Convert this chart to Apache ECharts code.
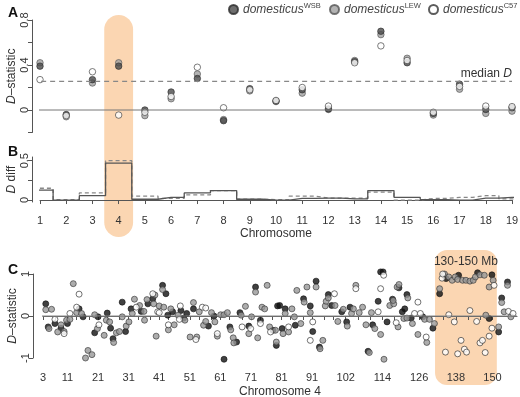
<!DOCTYPE html>
<html>
<head>
<meta charset="utf-8">
<title>D-statistic</title>
<script src="https://cdn.jsdelivr.net/npm/echarts@6/dist/echarts.min.js"></script>
<style>body{margin:0;background:#fff}#main{width:520px;height:397px}</style>
</head>
<body>
<div id="main"></div>
<script>
// panel A / B: per chromosome
var chroms = [1,2,3,4,5,6,7,8,9,10,11,12,13,14,15,16,17,18,19];
var dWSB = [0.39,-0.04,0.27,0.39,0.0,0.16,0.28,-0.095,0.19,0.08,0.18,0.01,0.43,0.70,0.42,-0.03,0.23,0.005,0.02];
var dLEW = [0.42,-0.06,0.24,0.42,-0.05,0.10,0.32,-0.085,0.17,0.075,0.15,0.005,0.44,0.67,0.46,-0.045,0.185,-0.03,-0.01];
var dC57 = [0.27,-0.05,0.34,-0.045,-0.02,0.12,0.38,0.02,0.18,0.085,0.20,0.035,0.42,0.57,0.44,-0.02,0.21,0.035,0.03];
var medianD = 0.255;
var diffSolid  = [0.127,0.0,0.055,0.47,0.01,0.035,0.09,0.12,0.01,0.0,0.02,0.025,0.015,0.12,0.035,0.005,0.0,0.025,0.035];
var diffDashed = [0.15,0.005,0.09,0.50,0.05,0.02,0.065,0.12,0.01,0.005,0.05,0.025,0.025,0.10,0.0,0.02,0.035,0.055,0.015];

// panel C: chromosome 4 windows [Mb, D]
var chr4WSB = [[3.9,0.29],[4.7,-0.26],[6.9,-0.18],[8.9,-0.29],[11.0,-0.18],[14.8,0.17],[16.1,-0.02],[21.0,-0.02],[19.9,-0.40],[24.0,0.07],[25.1,-0.29],[25.9,-0.54],[28.9,0.33],[30.0,-0.37],[31.8,0.17],[35.1,0.11],[37.3,0.29],[38.9,0.41],
  [42.1,0.73],[43.2,0.53],[43.8,0.02],[45.4,0.10],[48.1,0.13],[49.0,-0.05],[50.0,0.06],[52.2,0.17],[57.1,-0.24],[58.9,0.0],[62.2,-1.03],[64.1,-0.26],[66.3,-0.62],[67.4,0.08],[70.3,-0.24],[72.5,0.69],[74.1,-0.10],[78.2,-0.34],[79.7,0.24],
  [79.3,-0.70],[80.4,0.25],[81.2,-0.30],[82.2,0.17],[85.5,-0.22],[88.2,0.41],[90.4,0.24],[91.2,-0.37],[92.3,0.83],[93.4,-0.74],[96.3,0.51],[97.4,0.25],[100.7,0.10],[102.3,-0.14],[103.4,0.21],[109.3,-0.84],[110.8,-0.21],[112.6,0.35],[113.4,1.05],[114.2,1.05],[115.5,-0.14],[117.3,0.40],
  [119.4,0.67],[120.5,0.10],[121.3,0.17],[122.0,0.51],[123.4,-0.05],[127.2,-0.02],[130.5,-0.29],[132.7,0.53],[134.8,0.89],[138.9,0.97],[145.1,1.03],[148.9,-0.06],[149.8,0.98],[152.0,-0.38],[153.0,0.43],[154.9,0.81]];
var chr4LEW = [[3.9,0.15],[5.8,0.16],[4.95,-0.30],[7.8,-0.38],[8.9,-0.21],[9.9,-0.37],[10.7,-0.10],[11.8,-0.08],[12.9,0.77],[14.0,0.08],[15.6,0.06],[16.9,-1.0],[17.7,-0.82],[19.0,-0.92],[19.9,0.03],[20.8,-0.30],[23.0,-0.46],[23.7,-0.10],[24.8,-0.14],[26.1,-0.63],[27.0,-0.40],[28.0,-0.37],[28.9,-0.02],[30.2,-0.24],[31.1,-0.14],[32.2,0.06],[32.9,0.40],[34.6,0.25],[36.2,-0.10],[36.0,0.11],[37.0,0.39],[39.2,0.29],[40.0,-0.48],[39.6,0.50],
  [42.1,0.63],[41.0,0.24],[42.5,0.21],[44.0,-0.33],[44.8,0.17],[45.9,-0.21],[47.2,0.02],[49.4,-0.10],[51.1,-0.50],[52.2,0.32],[53.3,-0.50],[54.1,0.10],[55.5,-0.22],[56.2,-0.13],[58.1,0.08],[59.2,-0.14],[60.0,-0.48],[61.1,0.03],[62.2,0.03],[63.3,0.08],[64.4,-0.33],[65.2,-0.52],[65.4,-0.64],[67.8,0.02],[69.2,0.23],[71.2,-0.02],[70.3,-0.42],[72.5,0.57],[73.2,-0.52],[74.6,0.21],[75.5,0.17],[76.3,0.73],[77.1,-0.26],[79.3,-0.62],
  [79.0,-0.34],[81.5,-0.42],[82.2,0.06],[83.3,-0.38],[84.4,0.17],[85.2,-0.02],[86.0,0.61],[87.3,-0.18],[88.4,0.33],[89.3,0.69],[90.4,0.08],[92.3,0.69],[93.6,-0.78],[94.5,-0.58],[95.3,0.24],[95.6,0.35],[96.3,0.43],[98.5,0.25],[99.4,-0.13],[101.2,0.16],[102.5,-0.24],[103.9,0.06],[104.5,0.17],[105.3,0.73],[106.4,0.08],[107.5,0.21],[108.6,-0.21],[109.7,-0.87],[110.4,0.08],[111.5,-0.30],[113.4,-0.44],[114.5,-1.03],[116.4,0.25],[117.7,0.29],[118.8,0.69],
  [119.4,0.75],[117.5,0.37],[119.1,-0.26],[121.0,-0.06],[122.0,-0.05],[122.3,0.43],[123.8,-0.18],[125.6,-0.44],[127.8,-0.08],[128.5,-0.63],[129.4,-0.08],[131.0,-0.18],[132.7,0.65],[134.3,1.0],[135.7,0.93],[136.8,0.85],[137.8,0.93],[138.6,0.87],[140.2,0.85],[141.3,0.85],[142.6,0.83],[143.7,0.85],[144.4,0.93],[145.9,0.98],[147.3,0.97],[147.8,0.02],[148.9,0.69],[150.2,0.85],[152.0,-0.26],[153.0,0.32],[153.8,0.10],[154.9,0.73],[156.0,-0.02]];
var chr4C57 = [[6.9,-0.08],[9.9,-0.42],[11.8,0.06],[14.0,0.21],[14.8,0.52],[21.3,-0.21],[33.5,0.21],[38.9,0.53],[40.5,0.10],
  [41.0,0.08],[44.0,-0.21],[47.6,-0.08],[47.9,0.24],[53.0,-0.56],[55.1,0.21],[56.2,0.19],[60.0,-0.42],[68.1,-0.26],[70.9,-0.30],[74.1,-0.18],[77.4,-0.38],
  [83.3,-0.26],[91.2,-0.14],[90.4,-0.58],[98.3,0.53],[105.3,0.65],[112.6,0.10],[113.4,0.65],[114.4,0.97],
  [118.5,-0.16],[124.5,0.06],[125.6,0.33],[126.4,0.06],[128.3,-0.50],[133.5,0.90],[133.7,1.0],[135.7,0.03],[134.6,-0.86],[137.5,-0.14],[139.7,-0.58],[138.6,-0.90],[140.8,-0.79],[141.5,-0.86],[142.6,0.13],[144.8,-0.13],[145.9,-0.64],[146.7,-0.58],[147.6,-0.87],[148.9,-0.48],[149.8,-0.29],[150.5,0.73],[155.2,0.11],[156.7,0.06]];
var chr4Labels = [3,11,21,31,41,51,61,71,81,91,102,114,126,138,150];
var chr4Ticks = [3,7,11,14,18,21,24,28,31,34,38,41,44,48,51,54,58,61,64,68,71,74,78,81,84,88,91,95,98,102,106,110,114,118,122,126,130,134,138,142,146,150];
var highlightChr = [3.45, 4.55];
var highlightMb = [131.2, 151.4];

var FONT = '"Liberation Sans", Arial, sans-serif';
var TXT = '#333';
var peach = '#fbd6b2';

function pairs(xs, ys) {
    return xs.map(function (x, i) { return [x, ys[i]]; });
}
// step line extended a little beyond chromosome 1 and 19
function stepData(ys) {
    var d = [[0.73, ys[0]]].concat(pairs(chroms, ys));
    d.push([19.19, ys[ys.length - 1]]);
    return d;
}
// one legend box per strain so they stay on a single row
function strainLegend(name, left) {
    return {
        data: [name], left: left, top: 2, padding: 0,
        itemWidth: 9, itemHeight: 9, itemGap: 4, icon: 'circle',
        formatter: function (n) { return '{i|domesticus}{s|' + n + '}'; },
        textStyle: {
            rich: {
                i: {fontStyle: 'italic', fontSize: 12, color: '#444', fontFamily: FONT, lineHeight: 15},
                s: {fontSize: 7.5, color: '#444', fontFamily: FONT, verticalAlign: 'top', lineHeight: 15, padding: [0, 0, 6, 0]}
            }
        }
    };
}

var dotWSB = {color: '#4a4a4a', borderColor: '#2a2a2a', borderWidth: 0.8};
var dotLEW = {color: '#a0a0a0', borderColor: '#555', borderWidth: 0.8};
var dotC57 = {color: '#fff', borderColor: '#333', borderWidth: 0.8};

var yAxisBase = {
    type: 'value', offset: 8,
    axisLine: {show: true, lineStyle: {color: '#555'}},
    axisTick: {show: true, length: 4, lineStyle: {color: '#555'}},
    axisLabel: {rotate: 90, margin: 2, fontSize: 11, color: TXT, fontFamily: FONT},
    splitLine: {show: false},
    nameLocation: 'middle', nameGap: 14, nameMoveOverlap: false,
    nameTextStyle: {fontSize: 12, color: TXT, fontFamily: FONT,
        rich: {i: {fontStyle: 'italic', fontSize: 12, color: TXT, fontFamily: FONT}}}
};

var chart = echarts.init(document.getElementById('main'));
var option = {
    animation: false,
    textStyle: {fontFamily: FONT},
    title: [
        {text: 'A', left: 3, top: 1, textStyle: {fontSize: 14, fontWeight: 'bold', color: '#111'}},
        {text: 'B', left: 3, top: 140, textStyle: {fontSize: 14, fontWeight: 'bold', color: '#111'}},
        {text: 'C', left: 3, top: 258, textStyle: {fontSize: 14, fontWeight: 'bold', color: '#111'}}
    ],
    legend: [strainLegend('WSB', 228), strainLegend('LEW', 329), strainLegend('C57', 428)],
    grid: [
        {left: 40, right: 8, top: 20, height: 112.5, outerBoundsMode: 'none'},
        {left: 40, right: 8, top: 157, height: 45, outerBoundsMode: 'none'},
        {left: 43, right: 3, top: 274, height: 84, outerBoundsMode: 'none'}
    ],
    xAxis: [
        {gridIndex: 0, type: 'value', min: 1, max: 19, show: false},
        {gridIndex: 1, type: 'value', min: 1, max: 19, interval: 1, offset: 8,
            axisLine: {lineStyle: {color: '#555'}},
            axisTick: {length: 4, lineStyle: {color: '#555'}},
            axisLabel: {fontSize: 11, color: TXT, margin: 5},
            splitLine: {show: false},
            name: 'Chromosome', nameLocation: 'middle', nameGap: 18, nameMoveOverlap: false,
            nameTextStyle: {fontSize: 12, color: TXT}},
        {gridIndex: 2, type: 'value', min: 3, max: 158, offset: 6,
            axisLine: {lineStyle: {color: '#555'}},
            axisTick: {length: 4, customValues: chr4Ticks, lineStyle: {color: '#555'}},
            axisLabel: {fontSize: 11, color: TXT, margin: 8, customValues: chr4Labels},
            splitLine: {show: false},
            name: 'Chromosome 4', nameLocation: 'middle', nameGap: 22, nameMoveOverlap: false,
            nameTextStyle: {fontSize: 12, color: TXT}}
    ],
    yAxis: [
        echarts.util.merge({gridIndex: 0, min: -0.2, max: 0.8, name: '{i|D}–statistic',
            axisTick: {customValues: [-0.2, 0, 0.2, 0.4, 0.6, 0.8]},
            axisLabel: {customValues: [0, 0.4, 0.8]}}, yAxisBase),
        echarts.util.merge({gridIndex: 1, min: -0.025, max: 0.547, name: '{i|D} diff',
            axisTick: {customValues: [0, 0.25, 0.5]},
            axisLabel: {customValues: [0, 0.5]}}, yAxisBase),
        echarts.util.merge({gridIndex: 2, min: -1, max: 1, interval: 1, offset: 10, name: '{i|D}–statistic'}, yAxisBase)
    ],
    series: [
        // panel A reference lines
        {type: 'line', xAxisIndex: 0, yAxisIndex: 0, clip: false, symbol: 'none', silent: true,
            data: [[0.7, 0], [19.1, 0]], lineStyle: {color: '#777', width: 1}},
        {type: 'line', xAxisIndex: 0, yAxisIndex: 0, clip: false, silent: true,
            symbolSize: 0, showSymbol: true,
            data: [[0.7, medianD], {value: [19.0, medianD], label: {show: true}}],
            label: {show: false, position: 'left', distance: 0, offset: [0, -8],
                formatter: '{a|median }{i|D}',
                rich: {a: {fontSize: 12, color: TXT}, i: {fontSize: 12, fontStyle: 'italic', color: TXT}}},
            lineStyle: {color: '#888', width: 1.3, type: [5, 4]}},
        {name: 'LEW', type: 'scatter', xAxisIndex: 0, yAxisIndex: 0, symbolSize: 6.5, itemStyle: dotLEW, data: pairs(chroms, dLEW)},
        {name: 'WSB', type: 'scatter', xAxisIndex: 0, yAxisIndex: 0, symbolSize: 6.5, itemStyle: dotWSB, data: pairs(chroms, dWSB)},
        {name: 'C57', type: 'scatter', xAxisIndex: 0, yAxisIndex: 0, symbolSize: 6.5, itemStyle: dotC57, data: pairs(chroms, dC57)},
        // panel B
        {type: 'line', xAxisIndex: 1, yAxisIndex: 1, step: 'middle', clip: false, symbol: 'none',
            data: stepData(diffDashed), lineStyle: {color: '#888', width: 1.3, type: [4, 3]}},
        {type: 'line', xAxisIndex: 1, yAxisIndex: 1, step: 'middle', clip: false, symbol: 'none',
            data: stepData(diffSolid), lineStyle: {color: '#555', width: 1.3}},
        // panel C
        {type: 'line', xAxisIndex: 2, yAxisIndex: 2, clip: false, symbol: 'none', silent: true,
            data: [[0, 0], [158, 0]], lineStyle: {color: '#888', width: 1.2}},
        {name: 'c4WSB', type: 'scatter', xAxisIndex: 2, yAxisIndex: 2, clip: false, symbolSize: 6,
            itemStyle: {color: '#111', borderColor: '#111', borderWidth: 0.8}, data: chr4WSB},
        {name: 'c4LEW', type: 'scatter', xAxisIndex: 2, yAxisIndex: 2, clip: false, symbolSize: 6,
            itemStyle: {color: '#999', borderColor: '#333', borderWidth: 0.8}, data: chr4LEW},
        {name: 'c4C57', type: 'scatter', xAxisIndex: 2, yAxisIndex: 2, clip: false, symbolSize: 6,
            itemStyle: {color: '#fff', borderColor: '#222', borderWidth: 0.8}, data: chr4C57}
    ]
};
chart.setOption(option);

// highlight bands placed from data coordinates
var a1 = chart.convertToPixel({gridIndex: 1}, [highlightChr[0], 0]);
var a2 = chart.convertToPixel({gridIndex: 1}, [highlightChr[1], 0]);
var c1 = chart.convertToPixel({gridIndex: 2}, [highlightMb[0], 0]);
var c2 = chart.convertToPixel({gridIndex: 2}, [highlightMb[1], 0]);
chart.setOption({
    graphic: [
        {type: 'rect', z: -5, silent: true,
            shape: {x: a1[0], y: 15, width: a2[0] - a1[0], height: 222, r: 15},
            style: {fill: peach}},
        {type: 'rect', z: -5, silent: true,
            shape: {x: c1[0], y: 250, width: c2[0] - c1[0], height: 135, r: 12},
            style: {fill: peach}},
        {type: 'text', z: 5, silent: true, x: (c1[0] + c2[0]) / 2, y: 262,
            style: {text: '130-150 Mb', fontSize: 12, fill: TXT, fontFamily: FONT, align: 'center', verticalAlign: 'middle'}}
    ]
});
</script>
</body>
</html>
